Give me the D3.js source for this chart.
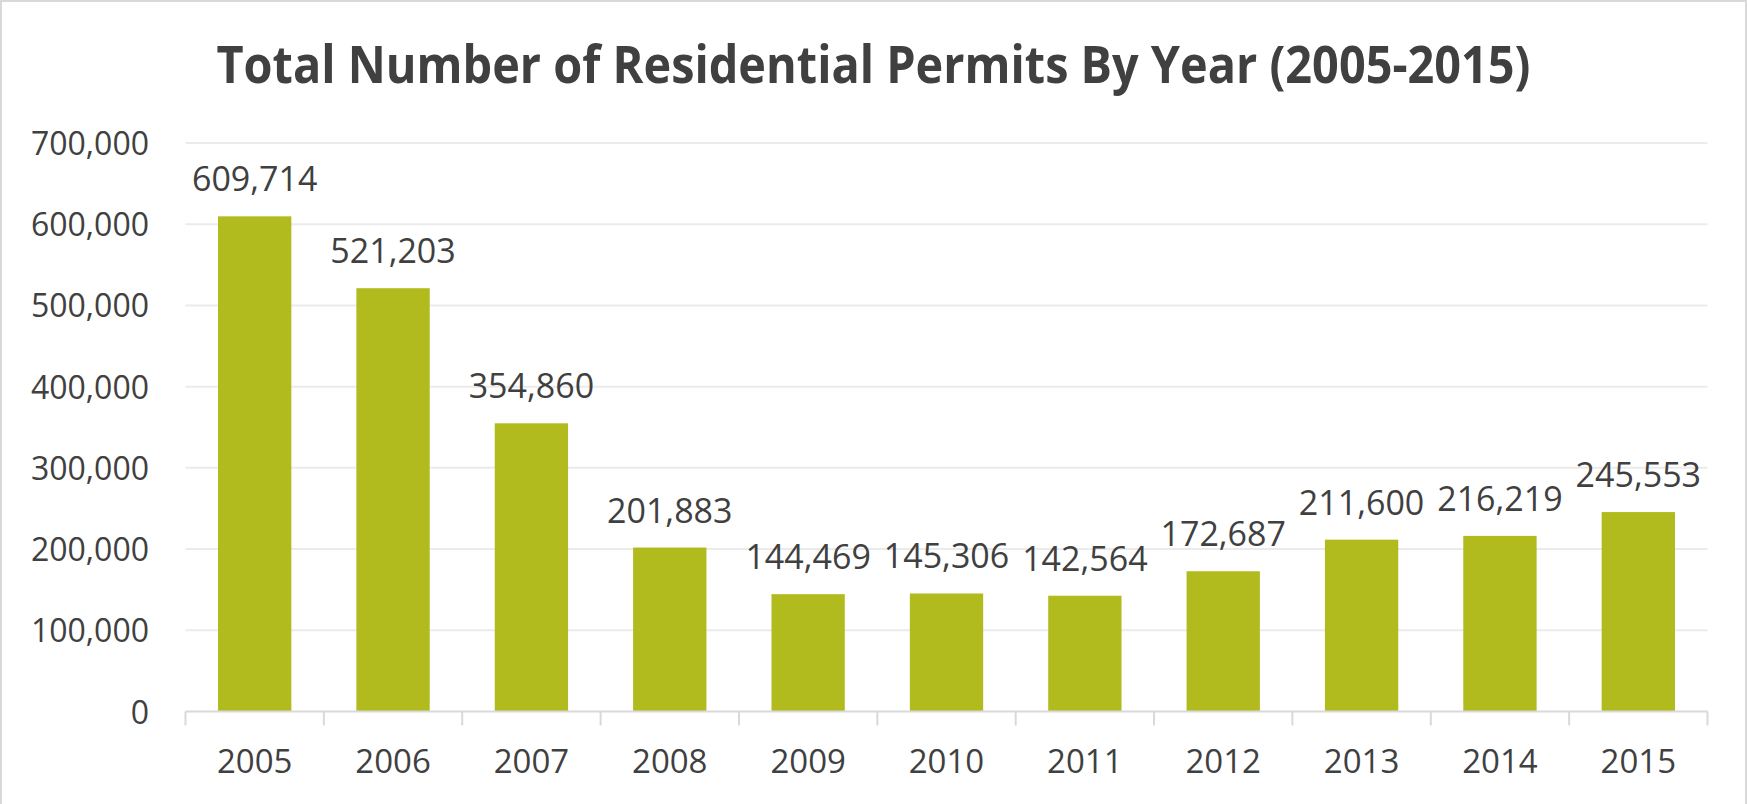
<!DOCTYPE html>
<html>
<head>
<meta charset="utf-8">
<script src="https://cdn.jsdelivr.net/npm/d3@7"></script>
<style>
  html, body { margin: 0; padding: 0; background: #fff; }
  svg { display: block; }
</style>
</head>
<body>
<svg id="chart" width="1748" height="804"></svg>
<script>
const titleText = "Total Number of Residential Permits By Year (2005-2015)";
const years = ["2005","2006","2007","2008","2009","2010","2011","2012","2013","2014","2015"];
const permits = [609714, 521203, 354860, 201883, 144469, 145306, 142564, 172687, 211600, 216219, 245553];
const yTicks = [0, 100000, 200000, 300000, 400000, 500000, 600000, 700000];

(function () {
const svg = d3.select("#chart");
const plotLeft = 185.5, plotRight = 1707.5, plotTop = 143, plotBottom = 711.5;
const textColor = "#404040";
const font = "'Open Sans', 'Liberation Sans', sans-serif";

// frame
svg.append("rect").attr("x", 1).attr("y", 1).attr("width", 1745).attr("height", 900)
  .attr("fill", "#fff").attr("stroke", "#D9D9D9").attr("stroke-width", 2);

const x = d3.scaleBand().domain(years).range([plotLeft, plotRight])
  .paddingInner(0.47).paddingOuter(0.235);
const y = d3.scaleLinear().domain([0, 700000]).range([plotBottom, plotTop]);
const fmt = d3.format(",");

// gridlines
svg.append("g").selectAll("line").data(yTicks.filter(d => d > 0)).join("line")
  .attr("x1", plotLeft).attr("x2", plotRight)
  .attr("y1", d => y(d)).attr("y2", d => y(d))
  .attr("stroke", "#EBEBEB").attr("stroke-width", 2);

// y axis labels
const yAxis = d3.axisLeft(y).tickValues(yTicks).tickFormat(fmt).tickSize(0).tickPadding(0);
const gy = svg.append("g").attr("transform", "translate(149,0)").call(yAxis);
gy.select(".domain").remove();
gy.selectAll("text").attr("fill", textColor).attr("font-family", font)
  .attr("font-size", 32).attr("dy", "0.36em");

// bars
svg.append("g").selectAll("rect").data(years).join("rect")
  .attr("x", d => x(d)).attr("width", x.bandwidth())
  .attr("y", (d, i) => y(permits[i]))
  .attr("height", (d, i) => y(0) - y(permits[i]))
  .attr("fill", "#B2BB1E");

// x axis line and ticks
const step = x.step();
const gx = svg.append("g");
gx.append("line").attr("x1", plotLeft).attr("x2", plotRight).attr("y1", plotBottom).attr("y2", plotBottom)
  .attr("stroke", "#D9D9D9").attr("stroke-width", 2);
gx.selectAll("line.tk").data(d3.range(years.length + 1)).join("line").attr("class", "tk")
  .attr("x1", i => plotLeft + i * step).attr("x2", i => plotLeft + i * step)
  .attr("y1", plotBottom).attr("y2", plotBottom + 14)
  .attr("stroke", "#D9D9D9").attr("stroke-width", 2);
gx.selectAll("text").data(years).join("text")
  .attr("x", d => x(d) + x.bandwidth() / 2).attr("y", 773)
  .attr("text-anchor", "middle").attr("fill", textColor)
  .attr("font-family", font).attr("font-size", 33).text(d => d);

// data labels
svg.append("g").selectAll("text").data(years).join("text")
  .attr("x", d => x(d) + x.bandwidth() / 2)
  .attr("y", (d, i) => y(permits[i]) - 25)
  .attr("text-anchor", "middle").attr("fill", textColor)
  .attr("font-family", font).attr("font-size", 34)
  .text((d, i) => fmt(permits[i]));

// title
svg.append("text").attr("x", 216.5).attr("y", 83)
  .attr("fill", textColor).attr("font-family", font).attr("font-weight", "bold")
  .attr("font-size", 52)
  .attr("textLength", 1314).attr("lengthAdjust", "spacingAndGlyphs")
  .text(titleText);
})();
</script>
</body>
</html>
